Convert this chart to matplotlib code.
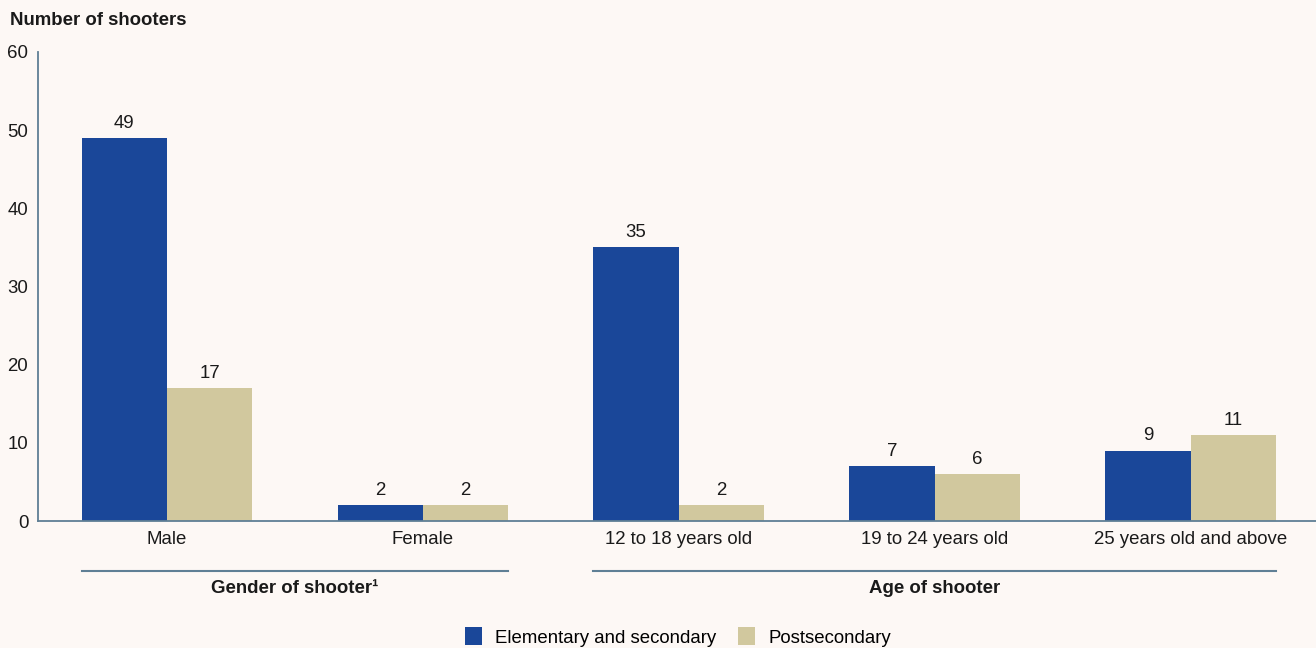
import matplotlib.pyplot as plt
import numpy as np

categories = ['Male', 'Female', '12 to 18 years old', '19 to 24 years old', '25 years old and above']
elementary = [49, 2, 35, 7, 9]
postsecondary = [17, 2, 2, 6, 11]
yticks = [0, 10, 20, 30, 40, 50, 60]

blue = '#1A4799'
tan = '#D1C89E'
bg = '#FDF8F5'
axis_col = '#5F7F95'
txt = '#1a1a1a'

plt.rcParams['font.family'] = ['Liberation Sans', 'DejaVu Sans']

fig = plt.figure(figsize=(13.16, 6.48), dpi=100, facecolor=bg)
ax = fig.add_axes([38/1316, 1-521/648, 1-38/1316, 469/648])
ax.set_facecolor(bg)

x = np.arange(len(categories))
w = 1/3
b1 = ax.bar(x - w/2, elementary, w, color=blue, label='Elementary and secondary')
b2 = ax.bar(x + w/2, postsecondary, w, color=tan, label='Postsecondary')

for bars, vals in ((b1, elementary), (b2, postsecondary)):
    for r, v in zip(bars, vals):
        ax.text(r.get_x() + r.get_width()/2, v + 0.8, str(v), ha='center', va='bottom',
                fontsize=13.4, color=txt)

ax.set_xlim(-0.504, 4.49)
ax.set_ylim(0, 60)
ax.set_yticks(yticks)
ax.set_xticks(x)
ax.set_xticklabels(categories)
ax.tick_params(axis='both', length=0, labelsize=13.4, colors=txt)
ax.tick_params(axis='x', pad=7)
ax.tick_params(axis='y', pad=7)
for s in ['top', 'right']:
    ax.spines[s].set_visible(False)
for s in ['left', 'bottom']:
    ax.spines[s].set_color(axis_col)
    ax.spines[s].set_linewidth(1.3)

fig.text(10/1316, 1-29/648, 'Number of shooters', fontsize=13.4,
         fontweight='bold', color=txt, ha='left', va='bottom')

# group brackets
groups = [('Gender of shooter\u00b9', 0, 1), ('Age of shooter', 2, 4)]
for label, i0, i1 in groups:
    ax.plot([i0 - w, i1 + w], [-6.4, -6.4], color=axis_col, lw=1.5, clip_on=False)
    ax.text((i0 + i1)/2, -7.6, label, ha='center', va='top', fontsize=13.4,
            fontweight='bold', color=txt)

fig.legend(handles=[b1, b2], loc='center', bbox_to_anchor=(678/1316, 1-637/648), ncol=2,
           frameon=False, fontsize=13.4, handlelength=0.9, handleheight=1.1,
           columnspacing=1.2, handletextpad=0.7)

fig.savefig('out.png', dpi=100, facecolor=bg)
